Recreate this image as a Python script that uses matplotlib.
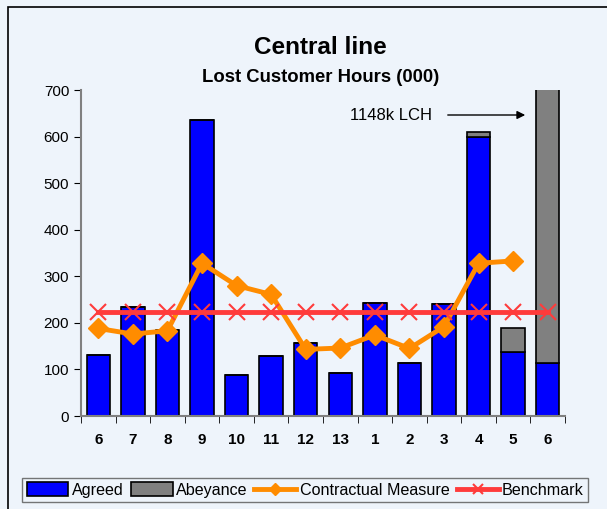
import numpy as np
import matplotlib
matplotlib.use('Agg')
import matplotlib.pyplot as plt
from matplotlib.patches import Rectangle

plt.rcParams['font.family'] = ['Liberation Sans', 'DejaVu Sans']

# Données
periods = ['6', '7', '8', '9', '10', '11', '12', '13', '1', '2', '3', '4', '5', '6']
agreed = [132, 235, 185, 636, 87, 129, 156, 93, 243, 114, 240, 600, 137, 114]
abeyance = [0, 0, 0, 0, 0, 0, 0, 0, 0, 0, 0, 10, 53, 1034]
contractual = [188, 176, 183, 328, 280, 261, 143, 146, 174, 145, 192, 328, 333, np.nan]
benchmark = [224] * 14

bg = '#EEF4FB'
fig = plt.figure(figsize=(6.07, 5.09), dpi=100, facecolor=bg)
fig.patches.append(Rectangle((8/607, -0.1), 1.2, 1 - 7/509 + 0.1, transform=fig.transFigure,
                             fill=False, edgecolor='black', linewidth=1.2))
ax = fig.add_axes([81/607, 1 - 416/509, (565 - 81)/607, (416 - 90)/509])
ax.set_facecolor(bg)

x = np.arange(len(periods))
b1 = ax.bar(x, agreed, width=0.68, color='#0000FF', edgecolor='black', linewidth=1.2,
            label='Agreed', zorder=2)
b2 = ax.bar(x, abeyance, width=0.68, bottom=agreed, color='#808080', edgecolor='black',
            linewidth=1.2, label='Abeyance', zorder=2)
l1, = ax.plot(x, contractual, color='#FF8C00', linewidth=3.5, marker='D', markersize=10,
              label='Contractual Measure', zorder=3)
l2, = ax.plot(x, benchmark, color='#FF3B3B', linewidth=3.5, marker='x', markersize=11,
              markeredgewidth=1.5, label='Benchmark', zorder=4)

ax.set_xlim(-0.5, len(periods) - 0.5)
ax.set_ylim(0, 700)
ax.set_yticks(range(0, 701, 100))
ax.tick_params(axis='y', labelsize=11, length=5, color='black')
ax.set_xticks(x)
ax.set_xticklabels(periods, fontsize=11, fontweight='bold')
ax.tick_params(axis='x', which='major', length=0, pad=12)
ax.set_xticks(np.arange(-0.5, len(periods)), minor=True)
ax.tick_params(axis='x', which='minor', length=5, color='black')
for s in ['top', 'right']:
    ax.spines[s].set_visible(False)
for s in ['left', 'bottom']:
    ax.spines[s].set_color('#808080')
    ax.spines[s].set_linewidth(1.5)

fig.text(350/607, 1 - 115/509, '1148k LCH', fontsize=12, va='center', ha='left')
ax.annotate('', xy=(528/607, 1 - 115/509), xytext=(445/607, 1 - 115/509),
            xycoords='figure fraction', textcoords='figure fraction',
            arrowprops=dict(arrowstyle='-|>', color='black', lw=1, mutation_scale=12))

fig.text(0.528, 1 - 48/509, 'Central line', ha='center', va='center', fontsize=17.5,
         fontweight='bold')
fig.text(0.528, 1 - 77/509, 'Lost Customer Hours (000)', ha='center', va='center',
         fontsize=13.3, fontweight='bold')

leg = fig.legend([b1, b2, l1, l2], ['Agreed', 'Abeyance', 'Contractual Measure', 'Benchmark'],
                 loc='center', bbox_to_anchor=(305/607, 1 - 490/509), ncol=4,
                 fontsize=11.6, frameon=True, fancybox=False, edgecolor='#555555',
                 facecolor=bg, handlelength=2.6, handleheight=0.9, handletextpad=0.2,
                 columnspacing=0.45, borderpad=0.3, markerscale=0.6)
leg.get_frame().set_linewidth(1)

fig.savefig('out.png', dpi=100, facecolor=bg)
